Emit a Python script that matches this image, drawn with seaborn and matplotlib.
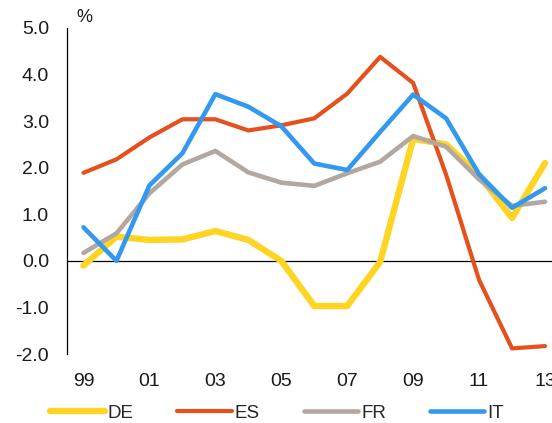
import matplotlib
matplotlib.use("Agg")
import matplotlib.pyplot as plt
import seaborn as sns
import pandas as pd

sns.set_theme(style="white")
plt.rcParams["font.family"] = ["Liberation Sans", "DejaVu Sans"]

years = list(range(1999, 2014))
tick_years = [1999, 2001, 2003, 2005, 2007, 2009, 2011, 2013]
tick_labels = ["99", "01", "03", "05", "07", "09", "11", "13"]

de = [-0.10, 0.52, 0.45, 0.46, 0.64, 0.45, 0.00, -0.97, -0.97, -0.02, 2.62, 2.50, 1.84, 0.92, 2.10]
es = [1.89, 2.18, 2.65, 3.04, 3.04, 2.80, 2.91, 3.06, 3.59, 4.38, 3.82, 1.85, -0.41, -1.88, -1.83]
fr = [0.17, 0.59, 1.45, 2.07, 2.36, 1.90, 1.68, 1.61, 1.88, 2.13, 2.68, 2.45, 1.75, 1.18, 1.27]
it = [0.72, 0.00, 1.62, 2.31, 3.58, 3.31, 2.89, 2.09, 1.95, 2.77, 3.57, 3.06, 1.86, 1.14, 1.56]

series = {"DE": de, "ES": es, "FR": fr, "IT": it}
colors = {"DE": "#FFD422", "ES": "#E5501C", "FR": "#B3A8A1", "IT": "#3399F0"}
widths = {"DE": 4.6, "ES": 3.0, "FR": 3.3, "IT": 3.3}

df = pd.DataFrame(
    [(y, name, v) for name, vals in series.items() for y, v in zip(years, vals)],
    columns=["year", "country", "value"],
)

fig = plt.figure(figsize=(5.52, 4.23), dpi=100)
ax = fig.add_axes([67 / 552, (423 - 354) / 423, (561.5 - 67) / 552, (354 - 28) / 423])

ax.axhline(0, color="black", linewidth=0.9, zorder=1)

for name in series:
    sns.lineplot(
        data=df[df["country"] == name], x="year", y="value",
        color=colors[name], linewidth=widths[name], label=name,
        ax=ax, zorder=3, solid_capstyle="round", solid_joinstyle="round",
    )

ax.set_xlim(1998.5, 2013.5)
ax.set_ylim(-2, 5)
ax.set_yticks([-2, -1, 0, 1, 2, 3, 4, 5])
ax.set_yticklabels(["-2.0", "-1.0", "0.0", "1.0", "2.0", "3.0", "4.0", "5.0"])
ax.set_xticks(tick_years)
ax.set_xticklabels(tick_labels)
ax.set_xlabel("")
ax.set_ylabel("")
ax.tick_params(axis="y", length=0, pad=13, labelsize=14, labelcolor="#1a1a1a")
ax.tick_params(axis="x", length=0, pad=13.5, labelsize=14, labelcolor="#1a1a1a")

for side in ["top", "right", "bottom"]:
    ax.spines[side].set_visible(False)
ax.spines["left"].set_color("black")
ax.spines["left"].set_linewidth(0.9)
ax.patch.set_alpha(0)

fig.text(84 / 552, 1 - 17 / 423, "%", fontsize=13, ha="center", va="center", color="#1a1a1a")

if ax.legend_:
    ax.legend_.remove()
handles, labels = ax.get_legend_handles_labels()
fig.legend(
    handles, labels, loc="center", bbox_to_anchor=(277 / 552, 1 - 413 / 423),
    ncol=4, frameon=False, fontsize=13.5, handlelength=2.9,
    handletextpad=0.15, columnspacing=2.35,
)

fig.savefig("out.png", dpi=100)
